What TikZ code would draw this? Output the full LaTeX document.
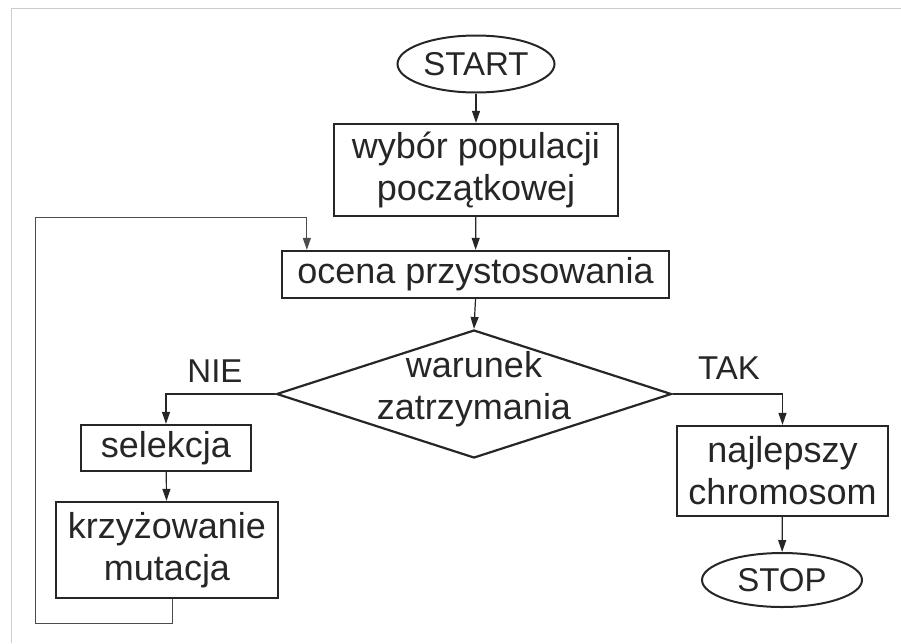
\documentclass[tikz,border=0pt]{standalone}
\usepackage{fontspec}
\setmainfont{Liberation Sans}
\usetikzlibrary{shapes,shapes.geometric,arrows.meta}

\begin{document}
\begin{tikzpicture}[x=1pt,y=-1pt,
  blok/.style={draw=black!85,line width=2.3pt,rectangle,align=center,inner sep=0pt,text=black!85,font=\fontsize{36}{42}\selectfont},
  owal/.style={draw=black!85,line width=2pt,ellipse,inner sep=0pt,text=black!85,font=\fontsize{33}{38}\selectfont},
  romb/.style={draw=black!85,line width=2.2pt,diamond,inner sep=0pt},
  napis/.style={text=black!85,align=center,inner sep=0pt},
  strz/.style={draw=black!85,line width=1.2pt,-{Triangle[length=12pt,width=8pt]}}]
\useasboundingbox (0,0) rectangle (901,643);
\draw[black!20,line width=1pt] (11,643)--(11,8)--(901,8);
\node(start) at (476,64) [owal,minimum width=157pt,minimum height=57pt] {START};
\node(wyb) at (476,170) [blok,minimum width=284pt,minimum height=92pt] {wybór populacji\\początkowej};
\node(ocena) at (475.5,274.5) [blok,minimum width=387pt,minimum height=47pt] {ocena przystosowania};
\node(war) at (474,394) [romb,minimum width=395pt,minimum height=128pt] {};
\node(wartxt) at (474,389) [napis,font=\fontsize{36}{42}\selectfont] {warunek\\zatrzymania};
\node(nie) at (215,371) [napis,font=\fontsize{33}{38}\selectfont] {NIE};
\node(tak) at (729,368) [napis,font=\fontsize{33}{38}\selectfont] {TAK};
\node(sel) at (166,448) [blok,minimum width=170pt,minimum height=46pt] {selekcja};
\node(krz) at (167,550) [blok,minimum width=222pt,minimum height=96pt] {krzyżowanie\\mutacja};
\node(naj) at (782.5,471) [blok,minimum width=211pt,minimum height=90pt] {najlepszy\\chromosom};
\node(stop) at (782,580) [owal,minimum width=160pt,minimum height=54pt] {STOP};
\coordinate(dol) at (35,623);
\coordinate(gora) at (35,217);
\draw[strz] (start)--(wyb);
\draw[strz] (wyb)--(ocena);
\draw[strz] (ocena.south)--(war.north);
\draw[strz] (war.west)-|(sel.north);
\draw[strz] (sel)--(krz);
\draw[strz] (war.east)-|(naj.north);
\draw[strz] (naj)--(stop);
\draw[strz,draw=black!70,line width=1pt] ([xshift=5pt]krz.south)|-(dol)--(gora)-|([xshift=26pt]ocena.north west);
\end{tikzpicture}
\end{document}
